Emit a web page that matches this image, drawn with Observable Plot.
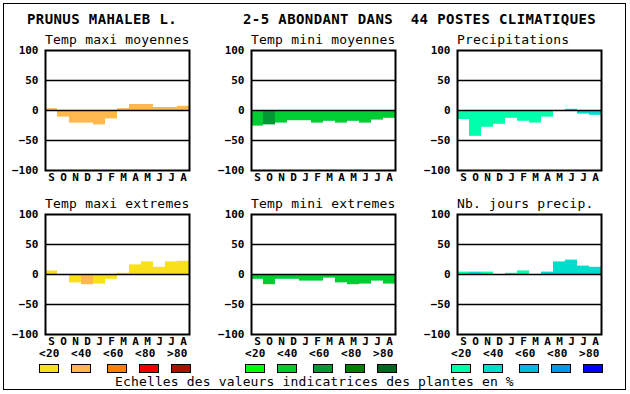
<!DOCTYPE html>
<html>
<head>
<meta charset="utf-8">
<script src="https://cdn.jsdelivr.net/npm/d3@7"></script>
<script src="https://cdn.jsdelivr.net/npm/@observablehq/plot@0.6"></script>
<style>
  body { margin: 0; background: white; }
  #wrap { position: relative; width: 630px; height: 394px; background: white; overflow: hidden; }
  .panel { position: absolute; }
  #overlay { position: absolute; left: 0; top: 0; pointer-events: none; }
  text { font-family: "DejaVu Sans Mono", monospace; }
</style>
</head>
<body>
<div id="wrap"></div>
<script>
// ---- data ----
const months = ["S","O","N","D","J","F","M","A","M","J","J","A"];
const classLabels = ["<20","<40","<60","<80",">80"];

const tmaxMoy    = [3,-11,-21,-21,-24,-14,3,10,10,5,5,7];
const tmaxMoyCls = [1,1,1,1,1,1,1,1,1,1,1,1];
const tminMoy    = [-26,-24,-21,-17,-17,-21,-18,-21,-18,-21,-16,-13];
const tminMoyCls = [1,2,1,1,1,1,1,1,1,1,1,1];
const precip     = [-15,-43,-28,-23,-13,-18,-21,-11,0,2,-6,-8];
const precipCls  = [0,0,0,0,0,0,0,0,0,1,1,1];
const tmaxExt    = [6,0,-14,-17,-16,-8,2,16,21,12,21,22];
const tmaxExtCls = [0,0,0,1,0,0,0,0,0,0,0,0];
const tminExt    = [-8,-17,-8,-8,-11,-11,-6,-14,-17,-16,-11,-16];
const tminExtCls = [1,1,1,1,1,1,1,1,1,1,1,1];
const nbJours    = [4,4,4,0,2,6,0,4,21,24,14,12];
const nbJoursCls = [0,1,0,0,0,0,0,1,1,1,1,1];

const paletteMax  = ["#f8e11c","#ffb84e","#ff7f00","#ee0000","#aa1100"];
const paletteMin  = ["#00ff00","#00cc33","#009933","#008000","#006622"];
const palettePrec = ["#00ffaa","#00ddcc","#00bbdd","#0099ee","#0000ff"];

const panels = [
  {title:"Temp maxi moyennes", values:tmaxMoy, cls:tmaxMoyCls, pal:paletteMax, col:0, row:0},
  {title:"Temp mini moyennes", values:tminMoy, cls:tminMoyCls, pal:paletteMin, col:1, row:0},
  {title:"Precipitations", values:precip, cls:precipCls, pal:palettePrec, col:2, row:0},
  {title:"Temp maxi extremes", values:tmaxExt, cls:tmaxExtCls, pal:paletteMax, col:0, row:1},
  {title:"Temp mini extremes", values:tminExt, cls:tminExtCls, pal:paletteMin, col:1, row:1},
  {title:"Nb. jours precip.", values:nbJours, cls:nbJoursCls, pal:palettePrec, col:2, row:1}
];

const wrap = document.getElementById("wrap");
const frameLefts = [45, 251, 457];
const frameTops = [50, 214];

for (const p of panels) {
  const data = p.values.map((v, i) => ({i, v, c: p.cls[i]}));
  const chart = Plot.plot({
    width: 194, height: 160,
    marginLeft: 45, marginRight: 5, marginTop: 20, marginBottom: 20,
    style: {fontFamily: "DejaVu Sans Mono", fontSize: "11px", fontWeight: "bold", color: "black", background: "transparent"},
    x: {type: "band", domain: d3.range(12), padding: 0, tickFormat: i => months[i], tickSize: 0, tickPadding: 3, label: null},
    y: {domain: [-100, 100], ticks: [-100, -50, 0, 50, 100], tickSize: 0, tickPadding: 7, label: null},
    color: {domain: d3.range(5), range: p.pal},
    marks: [
      Plot.barY(data, {x: "i", y: "v", fill: "c", inset: 0}),
      Plot.ruleY([-50, 0, 50], {stroke: "black", strokeWidth: 1.5}),
      Plot.frame({stroke: "black", strokeWidth: 2})
    ]
  });
  chart.classList.add("panel");
  chart.style.left = (frameLefts[p.col] - 45) + "px";
  chart.style.top = (frameTops[p.row] - 20) + "px";
  wrap.appendChild(chart);
}

// ---- overlay: titles, legend, footer, border ----
const svg = d3.select(wrap).append("svg").attr("id", "overlay").attr("width", 630).attr("height", 394);
svg.append("rect").attr("x", 3.5).attr("y", 3.5).attr("width", 622).attr("height", 386)
  .attr("fill", "none").attr("stroke", "black").attr("stroke-width", 1);

svg.append("text").attr("x", 27).attr("y", 24).attr("font-size", 14).attr("font-weight", "bold")
  .attr("letter-spacing", 0.4).text("PRUNUS MAHALEB L.");
svg.append("text").attr("x", 243).attr("y", 24).attr("font-size", 14).attr("font-weight", "bold")
  .attr("letter-spacing", 0.4).style("white-space", "pre")
  .text("2-5 ABONDANT DANS  44 POSTES CLIMATIQUES");

for (const p of panels) {
  svg.append("text").attr("x", frameLefts[p.col]).attr("y", frameTops[p.row] - 6)
    .attr("font-size", 13).attr("letter-spacing", 0.2).text(p.title);
}

const legendPalettes = [paletteMax, paletteMin, palettePrec];
const boxOffsets = [0, 32, 68, 100, 132];
legendPalettes.forEach((pal, g) => {
  const x0 = frameLefts[g] - 6;
  classLabels.forEach((lab, k) => {
    svg.append("text").attr("x", x0 + 32 * k).attr("y", 357).attr("font-size", 11)
      .attr("font-weight", "bold").attr("letter-spacing", 0.3).text(lab);
    svg.append("rect").attr("x", x0 + boxOffsets[k] + 0.5).attr("y", 364.5).attr("width", 19).attr("height", 8)
      .attr("fill", pal[k]).attr("stroke", "black").attr("stroke-width", 1);
  });
});

svg.append("text").attr("x", 115).attr("y", 386).attr("font-size", 13).attr("letter-spacing", 0.15)
  .text("Echelles des valeurs indicatrices des plantes en %");
</script>
</body>
</html>
